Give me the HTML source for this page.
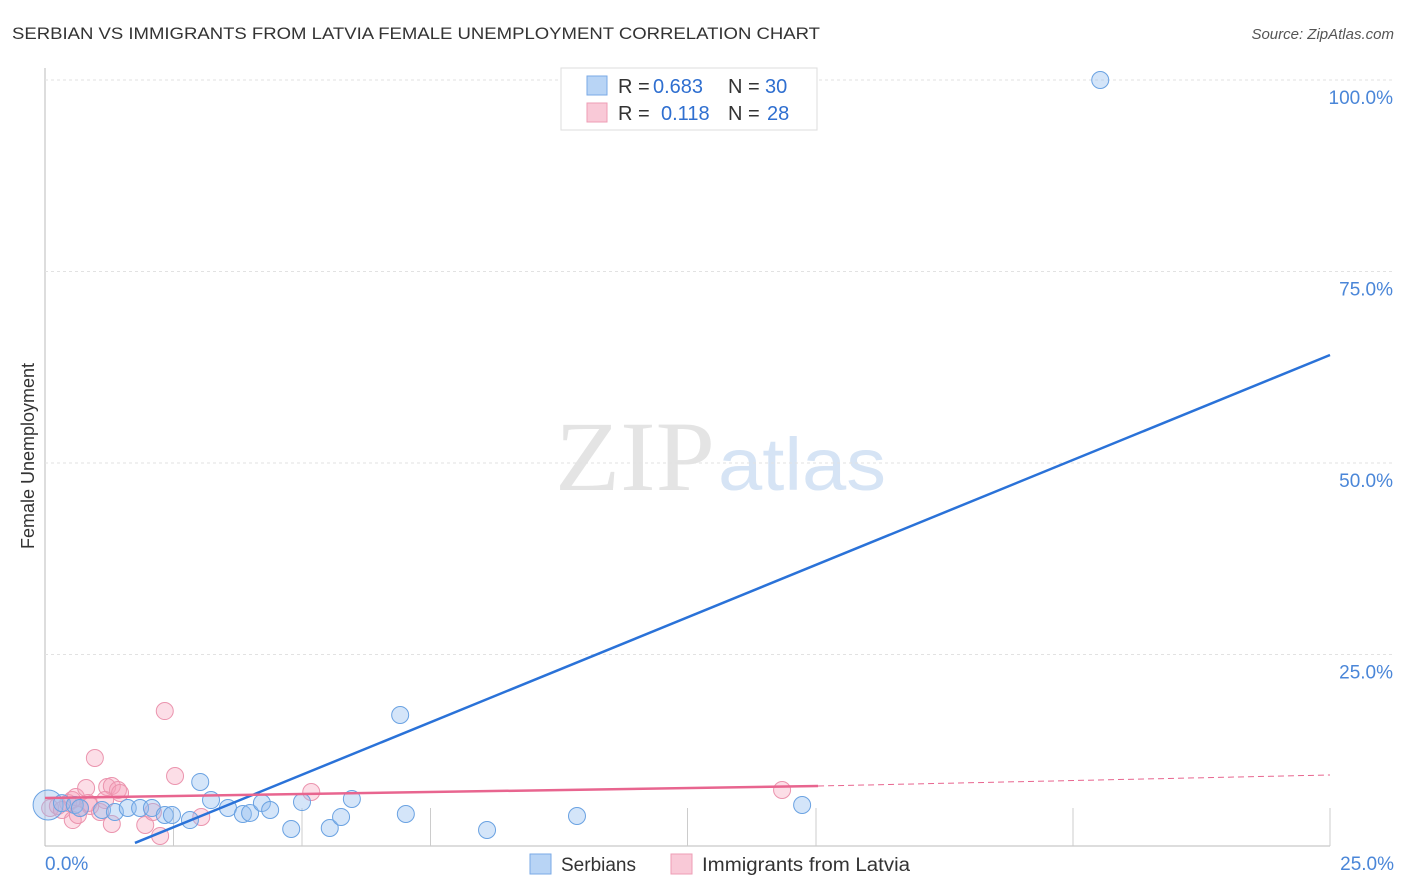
<!DOCTYPE html>
<html><head><meta charset="utf-8"><style>
body{margin:0;background:#fff;font-family:"Liberation Sans",sans-serif}
svg{display:block}
</style></head><body>
<svg id="c" width="1406" height="892">
<text x="12" y="39" font-size="17" fill="#333" textLength="808" lengthAdjust="spacingAndGlyphs">SERBIAN VS IMMIGRANTS FROM LATVIA FEMALE UNEMPLOYMENT CORRELATION CHART</text>
<text x="1394" y="39" font-size="15" fill="#555" font-style="italic" text-anchor="end">Source: ZipAtlas.com</text>
<text x="555" y="490" font-size="100" fill="#e4e4e4" textLength="160" lengthAdjust="spacingAndGlyphs" font-family="Liberation Serif,serif">ZIP</text>
<text x="718" y="490" font-size="74" fill="#d6e4f5" textLength="168" lengthAdjust="spacingAndGlyphs">atlas</text>
<text transform="translate(34,456) rotate(-90)" font-size="18" fill="#333" text-anchor="middle">Female Unemployment</text>
<g id="grid"></g><g id="pts"></g><g id="lines"></g>
<g>
<rect x="561" y="68" width="256" height="62" fill="#fff" stroke="#ddd"/>
<rect x="587" y="76" width="20" height="19" fill="#b8d4f5" stroke="#7aaae6"/>
<rect x="587" y="103" width="20" height="19" fill="#f9c9d7" stroke="#ee9db5"/>
<text x="618" y="93" font-size="20" fill="#333">R = <tspan fill="#2f6fd0" x="653">0.683</tspan><tspan x="728">N = </tspan><tspan fill="#2f6fd0" x="765">30</tspan></text>
<text x="618" y="120" font-size="20" fill="#333">R = <tspan fill="#2f6fd0" x="661">0.118</tspan><tspan x="728">N = </tspan><tspan fill="#2f6fd0" x="767">28</tspan></text>
</g>
<g>
<rect x="530" y="854" width="21" height="20" fill="#b8d4f5" stroke="#7aaae6"/>
<text x="561" y="871" font-size="19" fill="#333">Serbians</text>
<rect x="671" y="854" width="21" height="20" fill="#f9c9d7" stroke="#ee9db5"/>
<text x="702" y="871" font-size="19" fill="#333" textLength="208" lengthAdjust="spacingAndGlyphs">Immigrants from Latvia</text>
</g>
</svg>
<script>
const yTicks=[25,50,75,100];
const yTickLabels=["25.0%","50.0%","75.0%","100.0%"];
const xTickMarks=[2.5,5,7.5,12.5,15,20,25];
const xLabels=["0.0%","25.0%"];
const serbX=[0.06,0.33,0.58,0.68,1.11,1.36,1.61,1.85,2.08,2.33,2.47,2.82,3.02,3.23,3.56,3.85,3.99,4.22,4.38,4.79,5.0,5.54,5.76,5.97,6.91,7.02,8.6,10.35,14.73,20.53];
const serbY=[5.35,5.6,5.35,4.96,4.7,4.44,4.96,4.96,4.96,4.05,4.05,3.39,8.36,6.0,4.96,4.18,4.31,5.61,4.7,2.22,5.74,2.35,3.79,6.14,17.1,4.18,2.09,3.92,5.35,100];
const latX=[0.1,0.25,0.45,0.53,0.6,0.68,0.8,0.88,0.97,1.07,1.21,1.3,1.42,1.46,1.3,1.95,2.1,2.24,2.33,2.53,3.04,5.18,14.34,0.33,0.54,0.84,0.64,1.17];
const latY=[4.96,5.22,5.61,6.0,6.4,4.96,7.57,5.22,11.49,4.44,7.7,7.83,7.31,6.92,2.87,2.74,4.44,1.31,17.62,9.14,3.79,7.05,7.31,4.7,3.39,5.61,4.05,6.0];
const serbLine=[[1.75,0.4],[25,64.1]];
const latLine=[[0,6.27],[15.04,7.83],[25,9.27]];
const X=v=>45+v*51.4, Y=v=>846-v*7.66;
const NS="http://www.w3.org/2000/svg";
function mk(t,a,p){const e=document.createElementNS(NS,t);for(const k in a)e.setAttribute(k,a[k]);p.appendChild(e);return e;}
const g=document.getElementById('grid');
const ax=mk('line',{x1:45,y1:68,x2:45,y2:846,stroke:'#bbb'},g);


const bx=mk('line',{x1:45,y1:846,x2:1330,y2:846,stroke:'#bbb'},g);


yTicks.forEach((v,i)=>{
 const l=mk('line',{x1:45,y1:Y(v),x2:1394,y2:Y(v),stroke:'#e2e2e2','stroke-dasharray':'3,3'},g);
 
 
 const t=mk('text',{x:1393,y:Y(v)+24,'font-size':19,fill:'#4a86d8','text-anchor':'end'},g);
 t.textContent=yTickLabels[i];
 
 
});
xTickMarks.forEach(v=>{
 const l=mk('line',{x1:X(v),y1:808,x2:X(v),y2:846,stroke:'#ccc'},g);
 
 
});
[[0,'start',45],[25,'end',1394]].forEach((d,i)=>{
 const t=mk('text',{x:d[2],y:870,'font-size':19,fill:'#4a86d8','text-anchor':d[1]},g);
 t.textContent=xLabels[i];
 
 
});
const p=document.getElementById('pts');
latX.forEach((v,i)=>{
 const c=mk('circle',{cx:X(v),cy:Y(latY[i]),r:8.5,fill:'rgba(245,160,185,0.35)',stroke:'#eb94ae','stroke-width':1},p);
 
 
});
serbX.forEach((v,i)=>{
 const c=mk('circle',{cx:X(v),cy:Y(serbY[i]),r:i==0?15:8.5,fill:'rgba(147,190,240,0.4)',stroke:'#6aa2e2','stroke-width':1},p);
 
 
});
const L=document.getElementById('lines');
const sl=mk('line',{x1:X(serbLine[0][0]),y1:Y(serbLine[0][1]),x2:X(serbLine[1][0]),y2:Y(serbLine[1][1]),stroke:'#2a72d8','stroke-width':2.5},L);


const pl=mk('line',{x1:X(latLine[0][0]),y1:Y(latLine[0][1]),x2:X(latLine[1][0]),y2:Y(latLine[1][1]),stroke:'#e8658f','stroke-width':2.5},L);


const pd=mk('line',{x1:X(latLine[1][0]),y1:Y(latLine[1][1]),x2:X(latLine[2][0]),y2:Y(latLine[2][1]),stroke:'#e8658f','stroke-width':1,'stroke-dasharray':'6,4'},L);


</script>
</body></html>
